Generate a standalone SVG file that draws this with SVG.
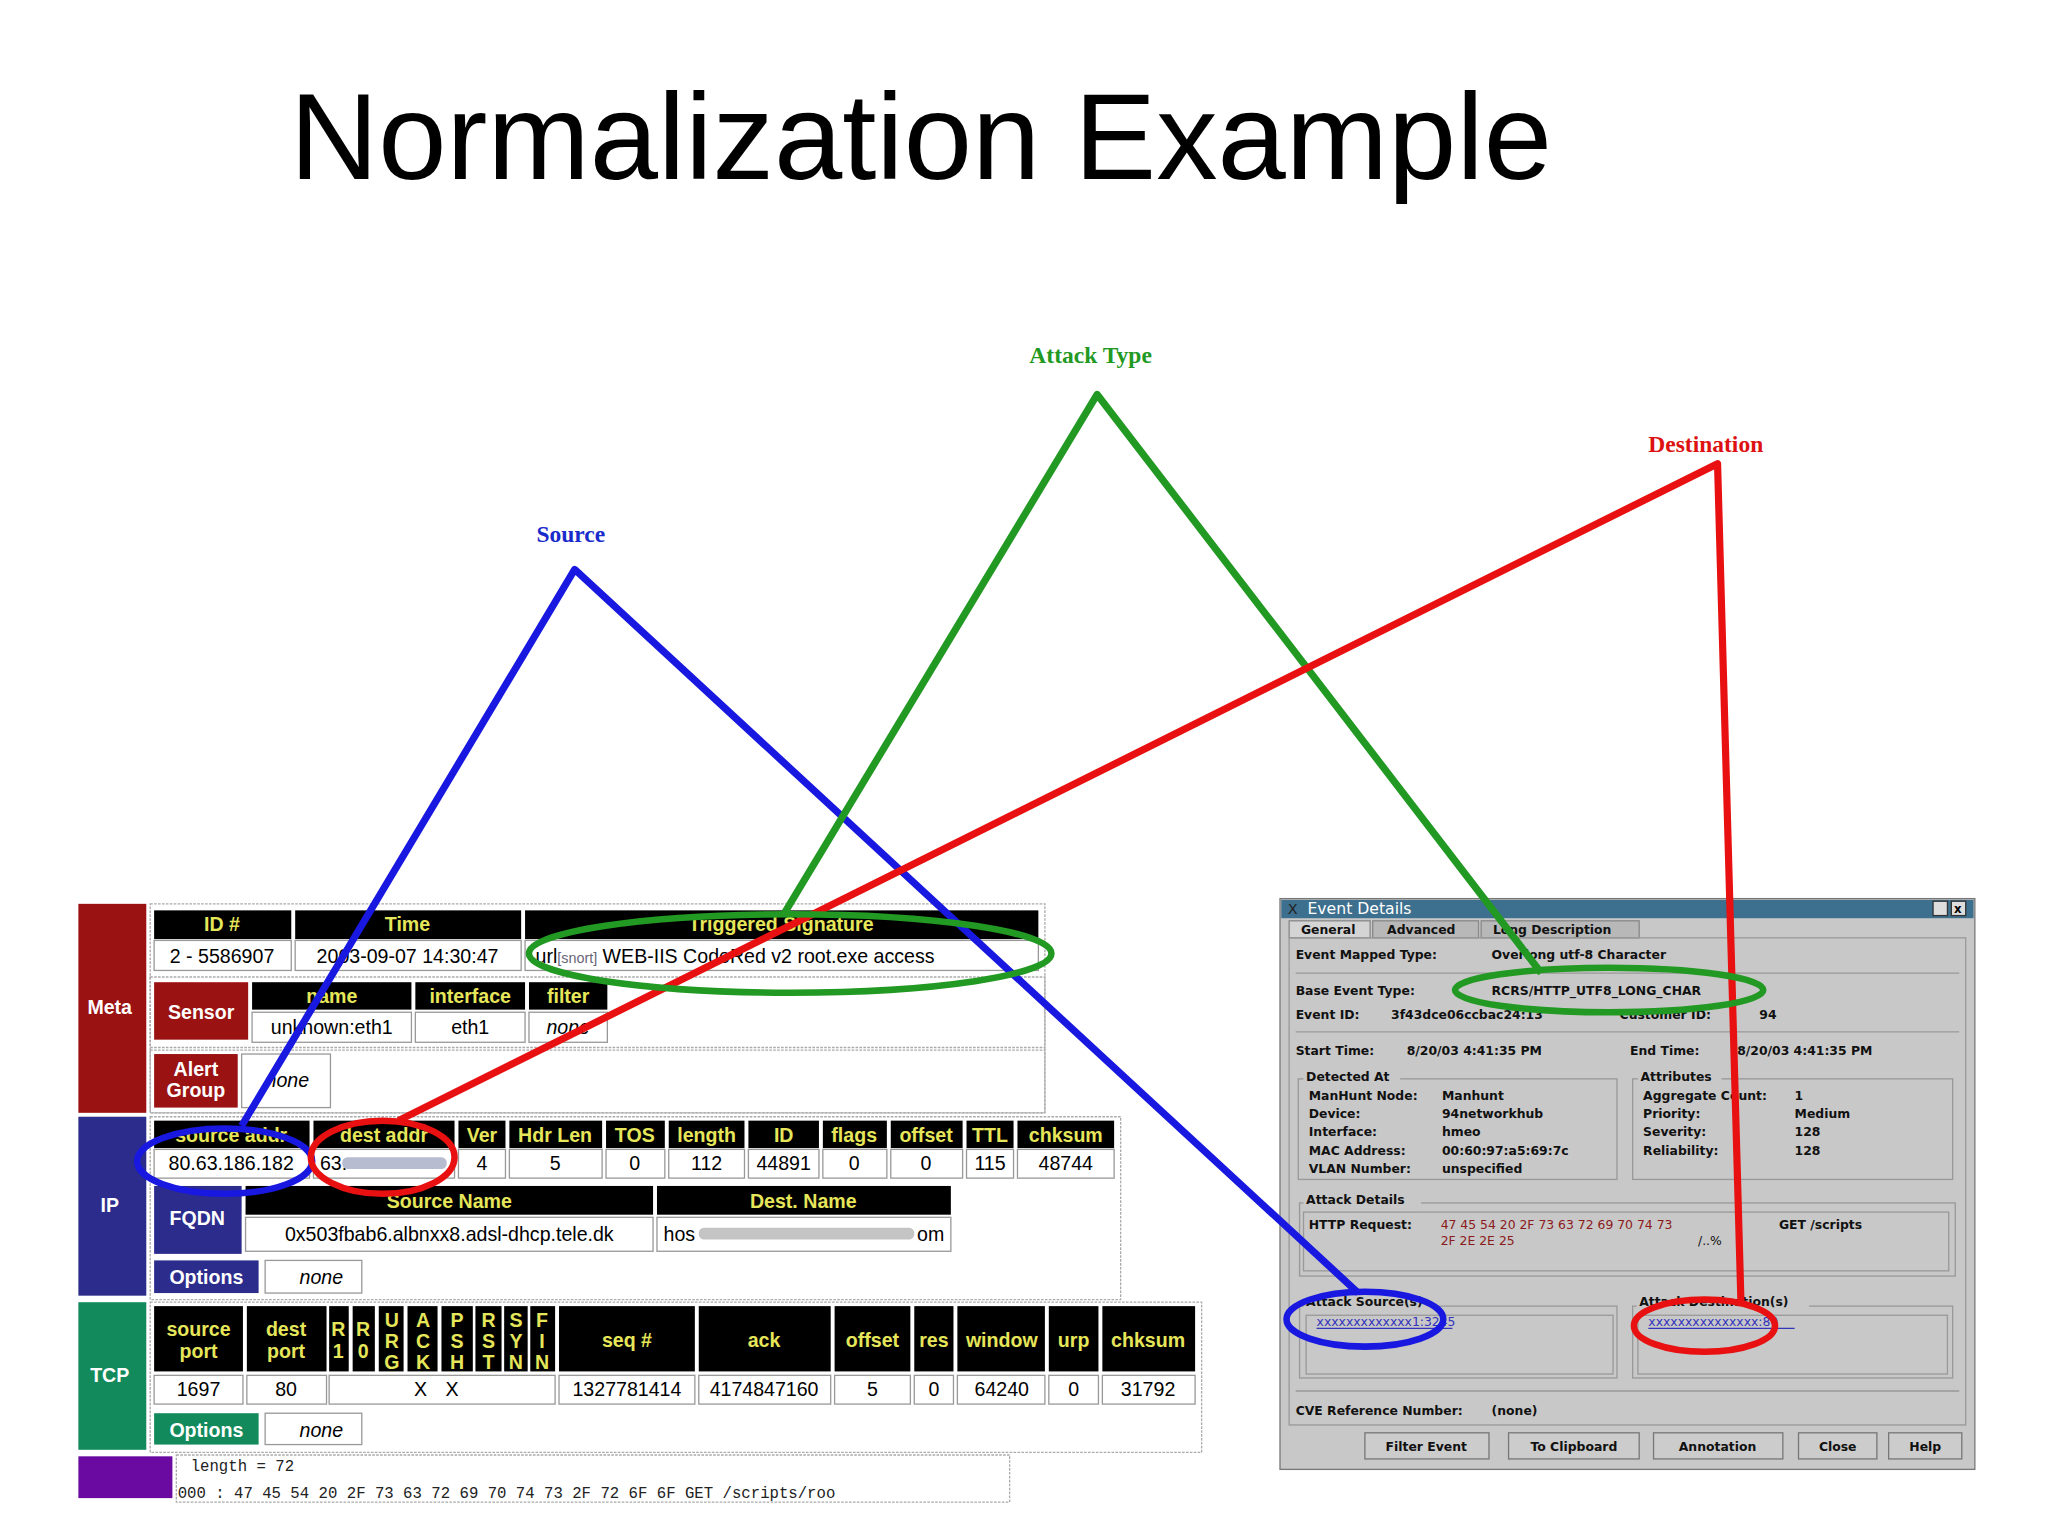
<svg xmlns="http://www.w3.org/2000/svg" width="2048" height="1536" viewBox="0 0 2048 1536">
<style>
.hd{fill:#000}
.ht{font-family:"Liberation Sans",Arial,sans-serif;font-weight:bold;font-size:15px;fill:#e6e65a;text-anchor:middle}
.vc{fill:#fff;stroke:#999;stroke-width:1}
.vt{font-family:"Liberation Sans",Arial,sans-serif;font-size:15px;fill:#000;text-anchor:middle}
.sec{font-family:"Liberation Sans",Arial,sans-serif;font-weight:bold;font-size:15px;fill:#fff;text-anchor:middle}
.dot{fill:none;stroke:#aaa;stroke-width:1;stroke-dasharray:2 1}
.w{font-family:"DejaVu Sans",sans-serif;font-weight:bold;font-size:9.5px;fill:#111}
.grp{fill:none;stroke:#999;stroke-width:1}
.btn{fill:#ccc;stroke:#777;stroke-width:1}
.lbl{font-family:"Liberation Serif","Times New Roman",serif;font-weight:bold;font-size:18px;text-anchor:middle}
.con{fill:none;stroke-width:5.5;stroke-linejoin:round}
.ell{fill:none;stroke-width:5}
</style>
<rect width="2048" height="1536" fill="#fff"/>
<g transform="scale(1.30612)">
<text x="705" y="137" font-family="Liberation Sans,Arial,sans-serif" font-size="94" text-anchor="middle" fill="#000">Normalization Example</text>

<g id="meta">
<rect x="60" y="692" width="52" height="160" fill="#9b1212"/>
<text x="84" y="776" class="sec">Meta</text>
<rect x="115" y="692" width="685" height="160" class="dot"/>
<rect x="118" y="697" width="105" height="22" class="hd"/><text x="170" y="713" class="ht">ID #</text>
<rect x="226" y="697" width="173" height="22" class="hd"/><text x="312" y="713" class="ht">Time</text>
<rect x="402" y="697" width="393" height="22" class="hd"/><text x="598" y="713" class="ht">Triggered Signature</text>
<rect x="118" y="720" width="105" height="23" class="vc"/><text x="170" y="737" class="vt">2 - 5586907</text>
<rect x="226" y="720" width="173" height="23" class="vc"/><text x="312" y="737" class="vt">2003-09-07 14:30:47</text>
<rect x="402" y="720" width="393" height="23" class="vc"/><text x="410" y="737" class="vt" text-anchor="start" style="text-anchor:start">url<tspan font-size="11" fill="#667">[snort]</tspan> WEB-IIS CodeRed v2 root.exe access</text>
<rect x="115" y="748" width="685" height="54" class="dot"/>
<rect x="118" y="752" width="72" height="44" fill="#9b1212"/><text x="154" y="780" class="sec">Sensor</text>
<rect x="193" y="752" width="122" height="21" class="hd"/><text x="254" y="768" class="ht">name</text>
<rect x="318" y="752" width="84" height="21" class="hd"/><text x="360" y="768" class="ht">interface</text>
<rect x="405" y="752" width="60" height="21" class="hd"/><text x="435" y="768" class="ht">filter</text>
<rect x="193" y="775" width="122" height="23" class="vc"/><text x="254" y="792" class="vt">unknown:eth1</text>
<rect x="318" y="775" width="84" height="23" class="vc"/><text x="360" y="792" class="vt">eth1</text>
<rect x="405" y="775" width="60" height="23" class="vc"/><text x="435" y="792" class="vt" font-style="italic">none</text>
<rect x="115" y="804" width="685" height="48" class="dot"/>
<rect x="118" y="807" width="64" height="41" fill="#9b1212"/><text x="150" y="824" class="sec">Alert</text><text x="150" y="840" class="sec">Group</text>
<rect x="185" y="807" width="68" height="41" class="vc"/><text x="220" y="832" class="vt" font-style="italic">none</text>
</g>

<g id="ip">
<rect x="60" y="855" width="52" height="137" fill="#2c2c8c"/>
<text x="84" y="928" class="sec">IP</text>
<rect x="115" y="855" width="743" height="140" class="dot"/>
<rect x="118" y="858" width="119" height="21" class="hd"/><text x="177" y="874" class="ht">source addr</text>
<rect x="240" y="858" width="108" height="21" class="hd"/><text x="294" y="874" class="ht">dest addr</text>
<rect x="351" y="858" width="36" height="21" class="hd"/><text x="369" y="874" class="ht">Ver</text>
<rect x="390" y="858" width="71" height="21" class="hd"/><text x="425" y="874" class="ht">Hdr Len</text>
<rect x="464" y="858" width="45" height="21" class="hd"/><text x="486" y="874" class="ht">TOS</text>
<rect x="512" y="858" width="58" height="21" class="hd"/><text x="541" y="874" class="ht">length</text>
<rect x="573" y="858" width="54" height="21" class="hd"/><text x="600" y="874" class="ht">ID</text>
<rect x="630" y="858" width="49" height="21" class="hd"/><text x="654" y="874" class="ht">flags</text>
<rect x="682" y="858" width="55" height="21" class="hd"/><text x="709" y="874" class="ht">offset</text>
<rect x="740" y="858" width="36" height="21" class="hd"/><text x="758" y="874" class="ht">TTL</text>
<rect x="779" y="858" width="74" height="21" class="hd"/><text x="816" y="874" class="ht">chksum</text>
<rect x="118" y="880" width="119" height="22" class="vc"/><text x="177" y="896" class="vt" fill="#556">80.63.186.182</text>
<rect x="240" y="880" width="108" height="22" class="vc"/><text x="245" y="896" class="vt" style="text-anchor:start" fill="#556">63.</text>
<rect x="262" y="886" width="80" height="9" fill="#b8bcd0" rx="4"/>
<rect x="351" y="880" width="36" height="22" class="vc"/><text x="369" y="896" class="vt">4</text>
<rect x="390" y="880" width="71" height="22" class="vc"/><text x="425" y="896" class="vt">5</text>
<rect x="464" y="880" width="45" height="22" class="vc"/><text x="486" y="896" class="vt">0</text>
<rect x="512" y="880" width="58" height="22" class="vc"/><text x="541" y="896" class="vt">112</text>
<rect x="573" y="880" width="54" height="22" class="vc"/><text x="600" y="896" class="vt">44891</text>
<rect x="630" y="880" width="49" height="22" class="vc"/><text x="654" y="896" class="vt">0</text>
<rect x="682" y="880" width="55" height="22" class="vc"/><text x="709" y="896" class="vt">0</text>
<rect x="740" y="880" width="36" height="22" class="vc"/><text x="758" y="896" class="vt">115</text>
<rect x="779" y="880" width="74" height="22" class="vc"/><text x="816" y="896" class="vt">48744</text>
<rect x="118" y="908" width="67" height="52" fill="#2c2c8c"/><text x="151" y="938" class="sec">FQDN</text>
<rect x="188" y="908" width="312" height="22" class="hd"/><text x="344" y="925" class="ht">Source Name</text>
<rect x="503" y="908" width="225" height="22" class="hd"/><text x="615" y="925" class="ht">Dest. Name</text>
<rect x="188" y="932" width="312" height="26" class="vc"/><text x="344" y="950" class="vt">0x503fbab6.albnxx8.adsl-dhcp.tele.dk</text>
<rect x="503" y="932" width="225" height="26" class="vc"/><text x="508" y="950" class="vt" style="text-anchor:start">hos</text><text x="723" y="950" class="vt" style="text-anchor:end">om</text>
<rect x="535" y="940" width="165" height="9" fill="#c4c4c4" rx="4"/>
<rect x="118" y="965" width="80" height="25" fill="#2c2c8c"/><text x="158" y="983" class="sec">Options</text>
<rect x="203" y="965" width="74" height="25" class="vc"/><text x="246" y="983" class="vt" font-style="italic">none</text>
</g>

<g id="tcp">
<rect x="60" y="997" width="52" height="113" fill="#128a5c"/>
<text x="84" y="1058" class="sec">TCP</text>
<rect x="115" y="997" width="805" height="115" class="dot"/>
<rect x="118" y="1000" width="68" height="50" class="hd"/><text x="152" y="1023" class="ht">source</text><text x="152" y="1040" class="ht">port</text>
<rect x="189" y="1000" width="61" height="50" class="hd"/><text x="219" y="1023" class="ht">dest</text><text x="219" y="1040" class="ht">port</text>
<rect x="252" y="1000" width="15" height="50" class="hd"/><text x="259" y="1023" class="ht">R</text><text x="259" y="1040" class="ht">1</text>
<rect x="270" y="1000" width="17" height="50" class="hd"/><text x="278" y="1023" class="ht">R</text><text x="278" y="1040" class="ht">0</text>
<rect x="290" y="1000" width="19" height="50" class="hd"/><text x="300" y="1016" class="ht">U</text><text x="300" y="1032" class="ht">R</text><text x="300" y="1048" class="ht">G</text>
<rect x="312" y="1000" width="23" height="50" class="hd"/><text x="324" y="1016" class="ht">A</text><text x="324" y="1032" class="ht">C</text><text x="324" y="1048" class="ht">K</text>
<rect x="338" y="1000" width="24" height="50" class="hd"/><text x="350" y="1016" class="ht">P</text><text x="350" y="1032" class="ht">S</text><text x="350" y="1048" class="ht">H</text>
<rect x="364" y="1000" width="20" height="50" class="hd"/><text x="374" y="1016" class="ht">R</text><text x="374" y="1032" class="ht">S</text><text x="374" y="1048" class="ht">T</text>
<rect x="386" y="1000" width="18" height="50" class="hd"/><text x="395" y="1016" class="ht">S</text><text x="395" y="1032" class="ht">Y</text><text x="395" y="1048" class="ht">N</text>
<rect x="406" y="1000" width="19" height="50" class="hd"/><text x="415" y="1016" class="ht">F</text><text x="415" y="1032" class="ht">I</text><text x="415" y="1048" class="ht">N</text>
<rect x="428" y="1000" width="104" height="50" class="hd"/><text x="480" y="1031" class="ht">seq #</text>
<rect x="535" y="1000" width="101" height="50" class="hd"/><text x="585" y="1031" class="ht">ack</text>
<rect x="639" y="1000" width="58" height="50" class="hd"/><text x="668" y="1031" class="ht">offset</text>
<rect x="700" y="1000" width="30" height="50" class="hd"/><text x="715" y="1031" class="ht">res</text>
<rect x="733" y="1000" width="67" height="50" class="hd"/><text x="767" y="1031" class="ht">window</text>
<rect x="803" y="1000" width="38" height="50" class="hd"/><text x="822" y="1031" class="ht">urp</text>
<rect x="844" y="1000" width="71" height="50" class="hd"/><text x="879" y="1031" class="ht">chksum</text>
<rect x="118" y="1053" width="68" height="22" class="vc"/><text x="152" y="1069" class="vt" fill="#556">1697</text>
<rect x="189" y="1053" width="61" height="22" class="vc"/><text x="219" y="1069" class="vt" fill="#556">80</text>
<rect x="252" y="1053" width="173" height="22" class="vc"/>
<text x="322" y="1069" class="vt">X</text><text x="346" y="1069" class="vt">X</text>
<rect x="428" y="1053" width="104" height="22" class="vc"/><text x="480" y="1069" class="vt">1327781414</text>
<rect x="535" y="1053" width="101" height="22" class="vc"/><text x="585" y="1069" class="vt">4174847160</text>
<rect x="639" y="1053" width="58" height="22" class="vc"/><text x="668" y="1069" class="vt">5</text>
<rect x="700" y="1053" width="30" height="22" class="vc"/><text x="715" y="1069" class="vt">0</text>
<rect x="733" y="1053" width="67" height="22" class="vc"/><text x="767" y="1069" class="vt">64240</text>
<rect x="803" y="1053" width="38" height="22" class="vc"/><text x="822" y="1069" class="vt">0</text>
<rect x="844" y="1053" width="71" height="22" class="vc"/><text x="879" y="1069" class="vt">31792</text>
<rect x="118" y="1082" width="80" height="24" fill="#128a5c"/><text x="158" y="1100" class="sec">Options</text>
<rect x="203" y="1082" width="74" height="24" class="vc"/><text x="246" y="1100" class="vt" font-style="italic">none</text>
</g>

<g id="payload">
<rect x="60" y="1115" width="72" height="32" fill="#6a0aa0"/>
<rect x="135" y="1114" width="638" height="36" class="dot"/>
<text x="146" y="1126" font-family="Liberation Mono,monospace" font-size="12" fill="#222">length = 72</text>
<text x="136" y="1147" font-family="Liberation Mono,monospace" font-size="12" fill="#222">000 : 47 45 54 20 2F 73 63 72 69 70 74 73 2F 72 6F 6F   GET /scripts/roo</text>
</g>

<g id="event-details">
<rect x="980" y="688" width="532" height="437" fill="#c8c8c8" stroke="#777"/>
<rect x="981" y="689" width="530" height="14" fill="#3d6f8e"/>
<text x="1001" y="700" font-family="DejaVu Sans,sans-serif" font-size="12" fill="#fff">Event Details</text>
<text x="986" y="700" font-family="DejaVu Sans,sans-serif" font-size="11" fill="#222">X</text>
<rect x="1480" y="690" width="11" height="11" fill="#ddd" stroke="#333"/><rect x="1494" y="690" width="11" height="11" fill="#ddd" stroke="#333"/>
<text x="1499" y="699" font-family="DejaVu Sans,sans-serif" font-size="9" font-weight="bold" text-anchor="middle">x</text>
<rect x="987" y="705" width="62" height="13" fill="#d4d4d4" stroke="#888"/><text x="996" y="715" class="w">General</text>
<rect x="1051" y="705" width="81" height="13" fill="#b8b8b8" stroke="#888"/><text x="1062" y="715" class="w">Advanced</text>
<rect x="1134" y="705" width="121" height="13" fill="#b8b8b8" stroke="#888"/><text x="1143" y="715" class="w">Long Description</text>
<rect x="987" y="718" width="518" height="373" fill="none" stroke="#999"/>
<text x="992" y="734" class="w">Event Mapped Type:</text><text x="1142" y="734" class="w">Overlong utf-8 Character</text>
<line x1="992" y1="745" x2="1500" y2="745" stroke="#999"/>
<text x="992" y="762" class="w">Base Event Type:</text><text x="1142" y="762" class="w">RCRS/HTTP_UTF8_LONG_CHAR</text>
<text x="992" y="780" class="w">Event ID:</text><text x="1065" y="780" class="w">3f43dce06ccbac24:13</text>
<text x="1240" y="780" class="w">Customer ID:</text><text x="1347" y="780" class="w">94</text>
<line x1="992" y1="790" x2="1500" y2="790" stroke="#999"/>
<text x="992" y="808" class="w">Start Time:</text><text x="1077" y="808" class="w">8/20/03 4:41:35 PM</text>
<text x="1248" y="808" class="w">End Time:</text><text x="1330" y="808" class="w">8/20/03 4:41:35 PM</text>
<rect x="994" y="826" width="244" height="77" class="grp"/>
<rect x="998" y="819" width="74" height="12" fill="#c8c8c8"/><text x="1000" y="828" class="w">Detected At</text>
<text x="1002" y="842" class="w">ManHunt Node:</text><text x="1104" y="842" class="w">Manhunt</text>
<text x="1002" y="856" class="w">Device:</text><text x="1104" y="856" class="w">94networkhub</text>
<text x="1002" y="870" class="w">Interface:</text><text x="1104" y="870" class="w">hmeo</text>
<text x="1002" y="884" class="w">MAC Address:</text><text x="1104" y="884" class="w">00:60:97:a5:69:7c</text>
<text x="1002" y="898" class="w">VLAN Number:</text><text x="1104" y="898" class="w">unspecified</text>
<rect x="1250" y="826" width="245" height="77" class="grp"/>
<rect x="1254" y="819" width="64" height="12" fill="#c8c8c8"/><text x="1256" y="828" class="w">Attributes</text>
<text x="1258" y="842" class="w">Aggregate Count:</text><text x="1374" y="842" class="w">1</text>
<text x="1258" y="856" class="w">Priority:</text><text x="1374" y="856" class="w">Medium</text>
<text x="1258" y="870" class="w">Severity:</text><text x="1374" y="870" class="w">128</text>
<text x="1258" y="884" class="w">Reliability:</text><text x="1374" y="884" class="w">128</text>
<rect x="995" y="921" width="502" height="56" class="grp"/>
<rect x="998" y="913" width="90" height="12" fill="#c8c8c8"/><text x="1000" y="922" class="w">Attack Details</text>
<rect x="998" y="928" width="494" height="45" class="grp"/>
<text x="1002" y="941" class="w">HTTP Request:</text>
<text x="1103" y="941" class="w" fill="#8b1a1a" style="fill:#8b1a1a;font-weight:normal">47 45 54 20 2F 73 63 72 69 70 74 73</text>
<text x="1103" y="953" class="w" style="fill:#8b1a1a;font-weight:normal">2F 2E 2E 25</text>
<text x="1362" y="941" class="w">GET /scripts</text><text x="1300" y="953" class="w" style="font-weight:normal">/..%</text>
<rect x="995" y="1000" width="243" height="55" class="grp"/>
<rect x="998" y="991" width="98" height="12" fill="#c8c8c8"/><text x="1000" y="1000" class="w">Attack Source(s)</text>
<rect x="1000" y="1007" width="235" height="45" class="grp"/>
<text x="1008" y="1015" class="w" style="fill:#33b;font-weight:normal">xxxxxxxxxxxxx1:3245</text>
<line x1="1008" y1="1017" x2="1112" y2="1017" stroke="#33b"/>
<rect x="1250" y="1000" width="245" height="55" class="grp"/>
<rect x="1253" y="991" width="132" height="12" fill="#c8c8c8"/><text x="1255" y="1000" class="w">Attack Destination(s)</text>
<rect x="1254" y="1007" width="237" height="45" class="grp"/>
<text x="1262" y="1015" class="w" style="fill:#33b;font-weight:normal">xxxxxxxxxxxxxxx:80</text>
<line x1="1262" y1="1017" x2="1374" y2="1017" stroke="#33b"/>
<line x1="992" y1="1065" x2="1500" y2="1065" stroke="#999"/>
<text x="992" y="1083" class="w">CVE Reference Number:</text><text x="1142" y="1083" class="w">(none)</text>
<rect x="1045" y="1097" width="95" height="20" class="btn"/><text x="1092" y="1111" class="w" text-anchor="middle">Filter Event</text>
<rect x="1155" y="1097" width="100" height="20" class="btn"/><text x="1205" y="1111" class="w" text-anchor="middle">To Clipboard</text>
<rect x="1266" y="1097" width="99" height="20" class="btn"/><text x="1315" y="1111" class="w" text-anchor="middle">Annotation</text>
<rect x="1377" y="1097" width="60" height="20" class="btn"/><text x="1407" y="1111" class="w" text-anchor="middle">Close</text>
<rect x="1446" y="1097" width="56" height="20" class="btn"/><text x="1474" y="1111" class="w" text-anchor="middle">Help</text>
</g>

<g id="labels">
<text x="835" y="278" class="lbl" fill="#229922">Attack Type</text>
<text x="1306" y="346" class="lbl" fill="#dd1111">Destination</text>
<text x="437" y="415" class="lbl" fill="#1a2bcc">Source</text>
</g>

<g id="connectors">
<polyline class="con" stroke="#1818e0" points="185,862 440,436 1040,990"/>
<polyline class="con" stroke="#229922" points="600,700 840,302 1180,745"/>
<polyline class="con" stroke="#e81010" points="305,858 1315,355 1333,1000"/>
<ellipse class="ell" stroke="#1818e0" cx="172" cy="889" rx="67" ry="25"/>
<ellipse class="ell" stroke="#e81010" cx="293" cy="886" rx="55" ry="28"/>
<ellipse class="ell" stroke="#229922" cx="605" cy="730" rx="200" ry="30"/>
<ellipse class="ell" stroke="#229922" cx="1232" cy="758" rx="118" ry="17"/>
<ellipse class="ell" stroke="#1818e0" cx="1045" cy="1010" rx="60" ry="21"/>
<ellipse class="ell" stroke="#e81010" cx="1305" cy="1015" rx="54" ry="20"/>
</g>
</g>
</svg>
